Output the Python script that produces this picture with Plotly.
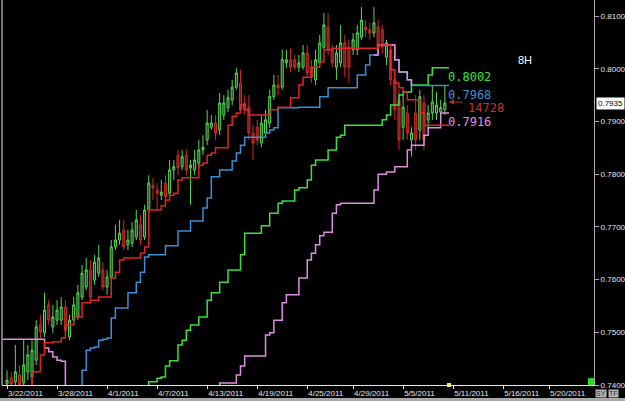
import plotly.graph_objects as go

# ---------------- data (8H bars) ----------------
bars = list(range(106))

opens = [0.7402, 0.7413, 0.7406, 0.7419, 0.7404, 0.7425, 0.7415, 0.7447, 0.7514, 0.7499,
         0.7552, 0.7510, 0.7523, 0.7523, 0.7548, 0.7491, 0.7523, 0.7529, 0.7567, 0.7586,
         0.7618, 0.7599, 0.7612, 0.7618, 0.7586, 0.7605, 0.7662, 0.7675, 0.7694, 0.7666,
         0.7669, 0.7681, 0.7704, 0.7681, 0.7732, 0.7779, 0.7770, 0.7760, 0.7783, 0.7764,
         0.7808, 0.7836, 0.7814, 0.7836, 0.7812, 0.7808, 0.7821, 0.7846, 0.7865, 0.7889,
         0.7897, 0.7884, 0.7912, 0.7926, 0.7941, 0.7965, 0.7973, 0.7935, 0.7927, 0.7878,
         0.7889, 0.7859, 0.7878, 0.7897, 0.7947, 0.7969, 0.7965, 0.8011, 0.8017, 0.8017,
         0.8003, 0.8003, 0.8030, 0.8003, 0.7979, 0.8011, 0.8041, 0.8079, 0.8036, 0.8003,
         0.8011, 0.8049, 0.8041, 0.8036, 0.8036, 0.8060, 0.8079, 0.8074, 0.8068, 0.8079,
         0.8074, 0.8022, 0.8036, 0.7979, 0.7941, 0.7889, 0.7916, 0.7865, 0.7916, 0.7884,
         0.7935, 0.7903, 0.7916, 0.7916, 0.7918, 0.7922]
highs = [0.7428, 0.7425, 0.7476, 0.7438, 0.7485, 0.7476, 0.7485, 0.7523, 0.7533, 0.7575,
         0.7561, 0.7552, 0.7561, 0.7567, 0.7561, 0.7533, 0.7567, 0.7590, 0.7628, 0.7641,
         0.7637, 0.7647, 0.7666, 0.7633, 0.7618, 0.7675, 0.7704, 0.7713, 0.7713, 0.7694,
         0.7709, 0.7732, 0.7723, 0.7742, 0.7798, 0.7793, 0.7783, 0.7789, 0.7798, 0.7827,
         0.7827, 0.7846, 0.7846, 0.7846, 0.7827, 0.7846, 0.7865, 0.7874, 0.7922, 0.7912,
         0.7912, 0.7954, 0.7950, 0.7960, 0.7979, 0.8001, 0.7998, 0.7950, 0.7950, 0.7893,
         0.7903, 0.7912, 0.7922, 0.7960, 0.7988, 0.7988, 0.8036, 0.8036, 0.8039, 0.8026,
         0.8026, 0.8045, 0.8045, 0.8017, 0.8036, 0.8064, 0.8106, 0.8106, 0.8045, 0.8045,
         0.8083, 0.8064, 0.8055, 0.8068, 0.8083, 0.8117, 0.8092, 0.8087, 0.8117, 0.8092,
         0.8083, 0.8055, 0.8045, 0.7998, 0.7960, 0.7950, 0.7931, 0.7889, 0.7950, 0.7960,
         0.7950, 0.7931, 0.7969, 0.7956, 0.7941, 0.7969]
lows = [0.7387, 0.7391, 0.7391, 0.7387, 0.7394, 0.7409, 0.7404, 0.7438, 0.7485, 0.7491,
        0.7514, 0.7499, 0.7514, 0.7514, 0.7499, 0.7485, 0.7514, 0.7523, 0.7561, 0.7580,
        0.7561, 0.7590, 0.7605, 0.7580, 0.7571, 0.7599, 0.7656, 0.7666, 0.7656, 0.7656,
        0.7662, 0.7675, 0.7666, 0.7675, 0.7726, 0.7751, 0.7732, 0.7751, 0.7738, 0.7760,
        0.7789, 0.7798, 0.7808, 0.7798, 0.7742, 0.7798, 0.7812, 0.7836, 0.7855, 0.7884,
        0.7865, 0.7874, 0.7903, 0.7918, 0.7931, 0.7960, 0.7916, 0.7912, 0.7865, 0.7827,
        0.7855, 0.7851, 0.7870, 0.7888, 0.7941, 0.7950, 0.7960, 0.8001, 0.7994, 0.7998,
        0.7994, 0.7998, 0.7984, 0.7973, 0.7969, 0.8007, 0.8036, 0.8026, 0.8003, 0.7979,
        0.8003, 0.7984, 0.7973, 0.8026, 0.8026, 0.8055, 0.8060, 0.8055, 0.8060, 0.8036,
        0.8030, 0.8007, 0.7969, 0.7903, 0.7846, 0.7865, 0.7865, 0.7833, 0.7846, 0.7865,
        0.7846, 0.7884, 0.7903, 0.7903, 0.7907, 0.7912]
closes = [0.7409, 0.7402, 0.7425, 0.7400, 0.7438, 0.7457, 0.7466, 0.7510, 0.7501, 0.7542,
          0.7523, 0.7529, 0.7542, 0.7548, 0.7504, 0.7523, 0.7552, 0.7575, 0.7612, 0.7618,
          0.7567, 0.7633, 0.7641, 0.7586, 0.7605, 0.7662, 0.7675, 0.7688, 0.7662, 0.7675,
          0.7694, 0.7713, 0.7675, 0.7732, 0.7783, 0.7774, 0.7764, 0.7766, 0.7757, 0.7808,
          0.7814, 0.7812, 0.7833, 0.7808, 0.7817, 0.7827, 0.7846, 0.7851, 0.7897, 0.7897,
          0.7878, 0.7935, 0.7935, 0.7945, 0.7965, 0.7992, 0.7922, 0.7922, 0.7878, 0.7859,
          0.7865, 0.7897, 0.7903, 0.7947, 0.7969, 0.7964, 0.8017, 0.8017, 0.8003, 0.8003,
          0.8011, 0.8030, 0.7992, 0.7984, 0.8017, 0.8049, 0.8083, 0.8036, 0.8011, 0.8030,
          0.8049, 0.8003, 0.8003, 0.8055, 0.8068, 0.8092, 0.8074, 0.8068, 0.8087, 0.8041,
          0.8041, 0.8049, 0.7979, 0.7922, 0.7865, 0.7927, 0.7878, 0.7878, 0.7865, 0.7947,
          0.7865, 0.7916, 0.7937, 0.7931, 0.7926, 0.7935]

# indicator step lines, one value per bar from bar -1 to bar 106
line_x = list(range(-1, 107))

red_line = ([None] * 6 +
            [0.7385, 0.7425, 0.7425, 0.7457, 0.7480, 0.7480, 0.7482, 0.7482, 0.7489, 0.7514,
             0.7514, 0.7529, 0.7529, 0.7556, 0.7556, 0.7561, 0.7561, 0.7567, 0.7567, 0.7567,
             0.7603, 0.7614, 0.7637, 0.7641, 0.7641, 0.7641, 0.7641, 0.7650, 0.7662, 0.7732,
             0.7732, 0.7732, 0.7740, 0.7751, 0.7760, 0.7764, 0.7789, 0.7793, 0.7793, 0.7793,
             0.7793, 0.7817, 0.7821, 0.7836, 0.7840, 0.7850, 0.7850, 0.7850, 0.7893, 0.7910,
             0.7916, 0.7931, 0.7922, 0.7912, 0.7912, 0.7912, 0.7912, 0.7912, 0.7922, 0.7922,
             0.7927, 0.7927, 0.7927, 0.7945, 0.7945, 0.7969, 0.7984, 0.7984, 0.8003, 0.8003,
             0.8013, 0.8036, 0.8036] +
            [0.8039] * 11 +
            [0.8045, 0.8045, 0.8045, 0.7998, 0.7973, 0.7964, 0.7956, 0.7941, 0.7941, 0.7941,
             0.7916] +
            [0.7893] * 7)

blue_line = ([None] * 18 +
             [0.7385, 0.7428, 0.7466, 0.7470, 0.7472, 0.7485, 0.7487, 0.7489, 0.7527, 0.7546,
              0.7546, 0.7546, 0.7575, 0.7575, 0.7595, 0.7614, 0.7643, 0.7647, 0.7647, 0.7647,
              0.7647, 0.7664, 0.7664, 0.7664, 0.7692, 0.7692, 0.7692, 0.7711, 0.7711, 0.7711,
              0.7736, 0.7755, 0.7795, 0.7795, 0.7808, 0.7808, 0.7808, 0.7825, 0.7840, 0.7855,
              0.7870, 0.7870, 0.7870, 0.7870, 0.7870, 0.7878, 0.7884, 0.7888] +
             [0.7926] * 5 + [0.7927] * 5 + [0.7947, 0.7947] + [0.7964] * 7 +
             [0.7988, 0.7988, 0.8007, 0.8026, 0.8026, 0.8045, 0.8045, 0.8045, 0.8045, 0.8017,
              0.7994, 0.7994, 0.7979] +
             [0.7968] * 10)

green_line = ([None] * 34 +
              [0.7385, 0.7406, 0.7406, 0.7413, 0.7415, 0.7436, 0.7446, 0.7446, 0.7476, 0.7485,
               0.7504, 0.7514, 0.7514, 0.7529, 0.7529, 0.7561, 0.7575, 0.7575, 0.7595, 0.7595,
               0.7618, 0.7618, 0.7618, 0.7647, 0.7688, 0.7688, 0.7688, 0.7688, 0.7702, 0.7702,
               0.7726, 0.7726, 0.7745, 0.7749, 0.7749, 0.7749, 0.7770, 0.7774, 0.7774, 0.7789,
               0.7817, 0.7827, 0.7827, 0.7827, 0.7846, 0.7846, 0.7870, 0.7874] +
              [0.7893] * 9 +
              [0.7903, 0.7912, 0.7931, 0.7931, 0.7950, 0.7956, 0.7956] +
              [0.7969] * 4 + [0.7988] + [0.8002] * 5)

pink_line = ([0.7487] * 10 +
             [0.7470, 0.7463, 0.7453, 0.7447, 0.7445, 0.7380] +
             [None] * 35 +
             [0.7385] + [0.7404] * 4 + [0.7419, 0.7436] + [0.7455] * 5 +
             [0.7495, 0.7499, 0.7523, 0.7523, 0.7556, 0.7571, 0.7571, 0.7571, 0.7603, 0.7603,
              0.7637, 0.7650, 0.7666, 0.7683, 0.7690, 0.7690, 0.7726, 0.7742] +
             [0.7745] * 8 +
             [0.7770, 0.7800, 0.7800, 0.7804, 0.7804, 0.7814, 0.7814, 0.7814, 0.7846,
              0.7855, 0.7855, 0.7855, 0.7874, 0.7888, 0.7888, 0.7888, 0.7916, 0.7916, 0.7916])

for arr in (red_line, blue_line, green_line, pink_line):
    assert len(arr) == len(line_x), len(arr)
for arr in (opens, highs, lows):
    assert len(arr) == len(bars)
assert len(closes) == len(bars)

tick_bars = [0, 12, 24, 36, 48, 60, 72, 83, 95, 107, 119, 130]
tick_dates = ["3/22/2011", "3/28/2011", "4/1/2011", "4/7/2011", "4/13/2011", "4/19/2011",
              "4/25/2011", "4/29/2011", "5/5/2011", "5/11/2011", "5/16/2011", "5/20/2011"]
price_ticks = [0.74, 0.75, 0.76, 0.77, 0.78, 0.79, 0.80, 0.81]
price_labels = ["0.7400", "0.7500", "0.7600", "0.7700", "0.7800", "0.7900", "0.8000", "0.8100"]
red_label = "14728"
timeframe = "8H"

# ---------------- figure ----------------
RED = "#e02424"
BLUE = "#3b8fd4"
GREEN = "#3ce03c"
PINK = "#e08ce0"

fig = go.Figure()
fig.add_trace(go.Candlestick(
    x=bars, open=opens, high=highs, low=lows, close=closes,
    increasing=dict(line=dict(color="#5ad65a", width=1), fillcolor="#173f17"),
    decreasing=dict(line=dict(color="#d02a2a", width=1), fillcolor="#7a1818"),
    whiskerwidth=0, showlegend=False, hoverinfo="skip"))

alt_from, alt_to = 88, 98  # bars where the blue line is painted pink
blue_alt = [v if alt_from <= b < alt_to else None for b, v in zip(line_x, blue_line)]

for ys, col in ((pink_line, PINK), (green_line, GREEN), (blue_line, BLUE),
                (blue_alt, PINK), (red_line, RED)):
    fig.add_trace(go.Scatter(x=line_x, y=ys, mode="lines", connectgaps=False,
                             line=dict(color=col, width=1.5, shape="hv"),
                             showlegend=False, hoverinfo="skip"))

# small yellow marker on the time axis at the current bar
fig.add_trace(go.Scatter(x=[line_x[-1]], y=[price_ticks[0]], mode="markers",
                         marker=dict(symbol="square", size=4, color="#f0f060"),
                         cliponaxis=False, showlegend=False, hoverinfo="skip"))

mono = "DejaVu Sans Mono"
ann = []
for ys, col in ((green_line, GREEN), (blue_line, BLUE), (pink_line, PINK)):
    ann.append(dict(x=line_x[-1], y=ys[-1], xref="x", yref="y", xanchor="left",
                    yanchor="middle", xshift=-3, yshift=-9, showarrow=False,
                    text=f"{ys[-1]:.4f}", font=dict(family=mono, size=12, color=col)))
# red arrow pointing at the current price
ann.append(dict(x=line_x[-1], y=closes[-1], xref="x", yref="y", text="",
                showarrow=True, arrowhead=2, arrowsize=0.8, arrowwidth=1.2,
                arrowcolor="#c83030", ax=15, ay=0, xshift=0, yshift=1))
ann.append(dict(x=line_x[-1], y=closes[-1], xref="x", yref="y", xanchor="left",
                yanchor="middle", xshift=17, yshift=-5, showarrow=False, text=red_label,
                font=dict(family=mono, size=12, color="#c83030")))
ann.append(dict(x=0.868, y=0.845, xref="paper", yref="paper", xanchor="left",
                yanchor="middle", showarrow=False, text=timeframe,
                font=dict(family="Liberation Sans", size=11, color="#ffffff")))
ann.append(dict(x=1, y=closes[-1], xref="paper", yref="y", xanchor="left",
                yanchor="middle", xshift=2, showarrow=False, text=f"{closes[-1]:.4f}",
                bgcolor="#ffffff", borderpad=1,
                font=dict(family="Liberation Sans", size=8, color="#000000")))
for txt, px in (("SY", 1.0118), ("TF", 1.0325)):
    ann.append(dict(x=px, y=-0.022, xref="paper", yref="paper", xanchor="center",
                    yanchor="middle", showarrow=False, text=txt, bgcolor="#b4b4b4",
                    borderpad=0, font=dict(family="Liberation Sans", size=7, color="#303030")))

shapes = [
    dict(type="line", xref="paper", yref="paper", x0=0, x1=0, y0=0, y1=1,
         line=dict(color="#e8e8e8", width=1)),
    dict(type="rect", xref="paper", yref="paper", x0=0.9899, x1=1.0, y0=0, y1=0.018,
         fillcolor="#22dd22", line=dict(width=0)),
    dict(type="rect", xref="paper", yref="paper", x0=-0.01, x1=1.06, y0=-0.0416, y1=-0.0338,
         fillcolor="#a8a8a8", line=dict(width=0)),
]

fig.update_layout(
    width=625, height=401,
    margin=dict(l=2, r=31, t=0, b=16),
    paper_bgcolor="#000000", plot_bgcolor="#000000",
    showlegend=False, annotations=ann, shapes=shapes,
    xaxis=dict(range=[-1.2, 140.77], rangeslider=dict(visible=False),
               showgrid=False, zeroline=False, showline=True, linecolor="#e6e6e6",
               linewidth=1, ticks="outside", ticklen=3, tickcolor="#e6e6e6",
               tickvals=tick_bars, ticktext=tick_dates, ticklabelposition="outside right",
               tickfont=dict(family="Liberation Sans", size=8, color="#e6e6e6")),
    yaxis=dict(range=[0.74, 0.81304], side="right", showgrid=False, zeroline=False,
               showline=True, linecolor="#a8a8a8", linewidth=1, ticks="outside",
               ticklen=4, tickcolor="#a8a8a8", tickvals=price_ticks, ticktext=price_labels,
               tickfont=dict(family="Liberation Sans", size=8, color="#e6e6e6")),
)

fig.write_html("out.html")
